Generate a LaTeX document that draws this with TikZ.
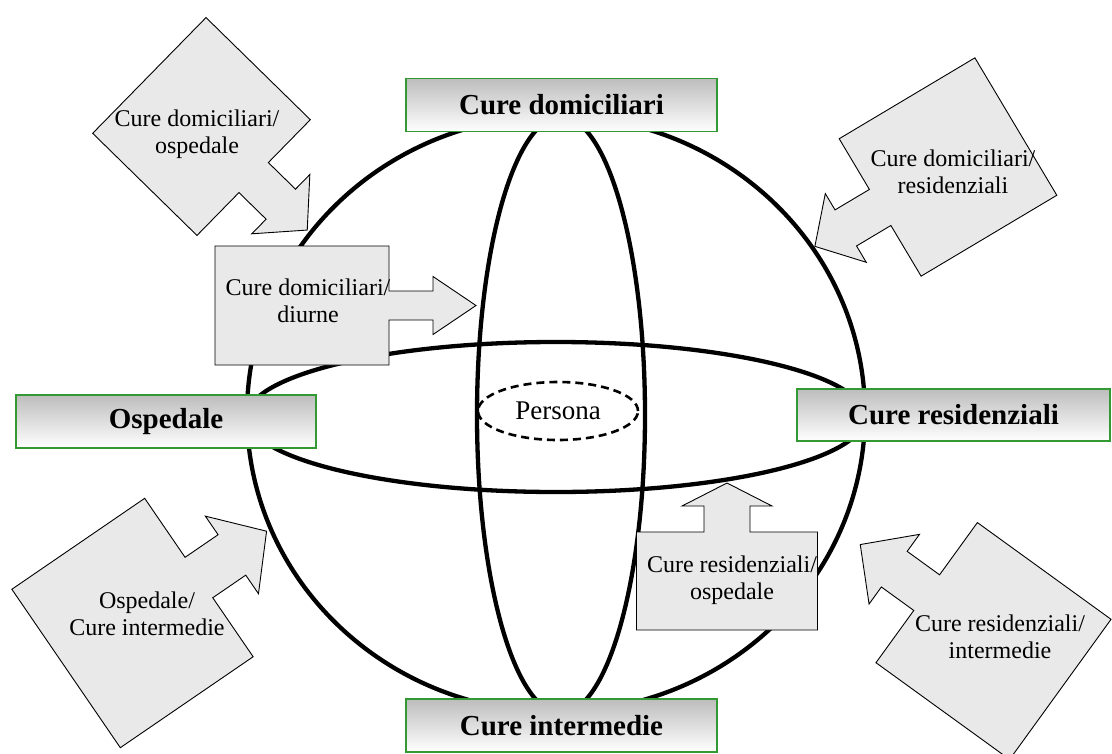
\documentclass[tikz,border=0pt]{standalone}
\usepackage{fontspec}
\setmainfont{Liberation Serif}
\usepackage{xcolor}
\usetikzlibrary{shapes.geometric}
\definecolor{BoxBorder}{HTML}{339933}
\definecolor{BoxShade}{HTML}{BDBDBD}
\definecolor{CalloutFill}{HTML}{E9E9E9}

% centre x, centre y, angle, half length, half width, shaft half width, shaft length, head half width, head length
\newcommand{\arrowbox}[9]{%
  \begin{scope}[shift={(#1,#2)}, rotate=#3]
    \draw[callout] ({-#4},{-#5}) -- ({#4},{-#5}) -- ({#4},{-#6}) -- ({#4+#7},{-#6}) -- ({#4+#7},{-#8})
      -- ({#4+#7+#9},0) -- ({#4+#7},{#8}) -- ({#4+#7},{#6}) -- ({#4},{#6}) -- ({#4},{#5}) -- ({-#4},{#5}) -- cycle;
  \end{scope}}

\begin{document}
\begin{tikzpicture}[x=1pt, y=-1pt,
    ring/.style={line width=4.3pt},
    carebox/.style={draw=BoxBorder, line width=1.2pt, top color=BoxShade, bottom color=white, minimum width=311pt, minimum height=53pt, inner sep=0pt, font=\bfseries\fontsize{29}{32}\selectfont},
    callout/.style={draw, fill=CalloutFill, line width=0.9pt},
    callouttext/.style={align=center, inner sep=0pt, font=\fontsize{24}{27}\selectfont}]
  \useasboundingbox (0,0) rectangle (1112,753);

  \draw[ring] (556,414) ellipse [x radius=309, y radius=298];
  \draw[ring] (561,415) ellipse [x radius=84, y radius=298];
  \draw[ring] (556,417) ellipse [x radius=309, y radius=75];
  \node[draw, ellipse, line width=2.6pt, dash pattern=on 8pt off 5pt, minimum width=160pt, minimum height=58pt, inner sep=0pt, font=\fontsize{27}{30}\selectfont] (persona) at (558,411) {Persona};

  \node[carebox] (home) at (561.5,105) {Cure domiciliari};
  \node[carebox, minimum width=300pt] (hospital) at (166,421.5) {Ospedale};
  \node[carebox, minimum width=313pt, minimum height=52pt] (residential) at (953.5,415) {Cure residenziali};
  \node[carebox] (intermediate) at (561.5,725.5) {Cure intermedie};

  \arrowbox{201.5}{126.5}{-44.4}{73}{81}{21}{38}{41.5}{37}
  \arrowbox{948}{167}{-149.2}{79}{80}{21}{40}{40}{36}
  \arrowbox{302}{305.5}{0}{87}{59.5}{14.5}{44}{29}{43}
  \arrowbox{727}{581}{90}{49}{90.5}{23}{26}{45}{23}
  \arrowbox{132.5}{623}{34.4}{80.5}{96}{24.5}{40}{47}{42}
  \arrowbox{993.5}{641}{144.1}{82.5}{86.5}{22}{40}{43}{42}

  \node[callouttext] (homeHospital) at (197,134) {Cure domiciliari/\\ospedale};
  \node[callouttext] (homeResidential) at (953,172) {Cure domiciliari/\\residenziali};
  \node[callouttext] (homeDay) at (308,301) {Cure domiciliari/\\diurne};
  \node[callouttext] (residentialHospital) at (732,580) {Cure residenziali/\\ospedale};
  \node[callouttext] (hospitalIntermediate) at (147,614) {Ospedale/\\Cure intermedie};
  \node[callouttext] (residentialIntermediate) at (1000,637) {Cure residenziali/\\intermedie};
\end{tikzpicture}
\end{document}
